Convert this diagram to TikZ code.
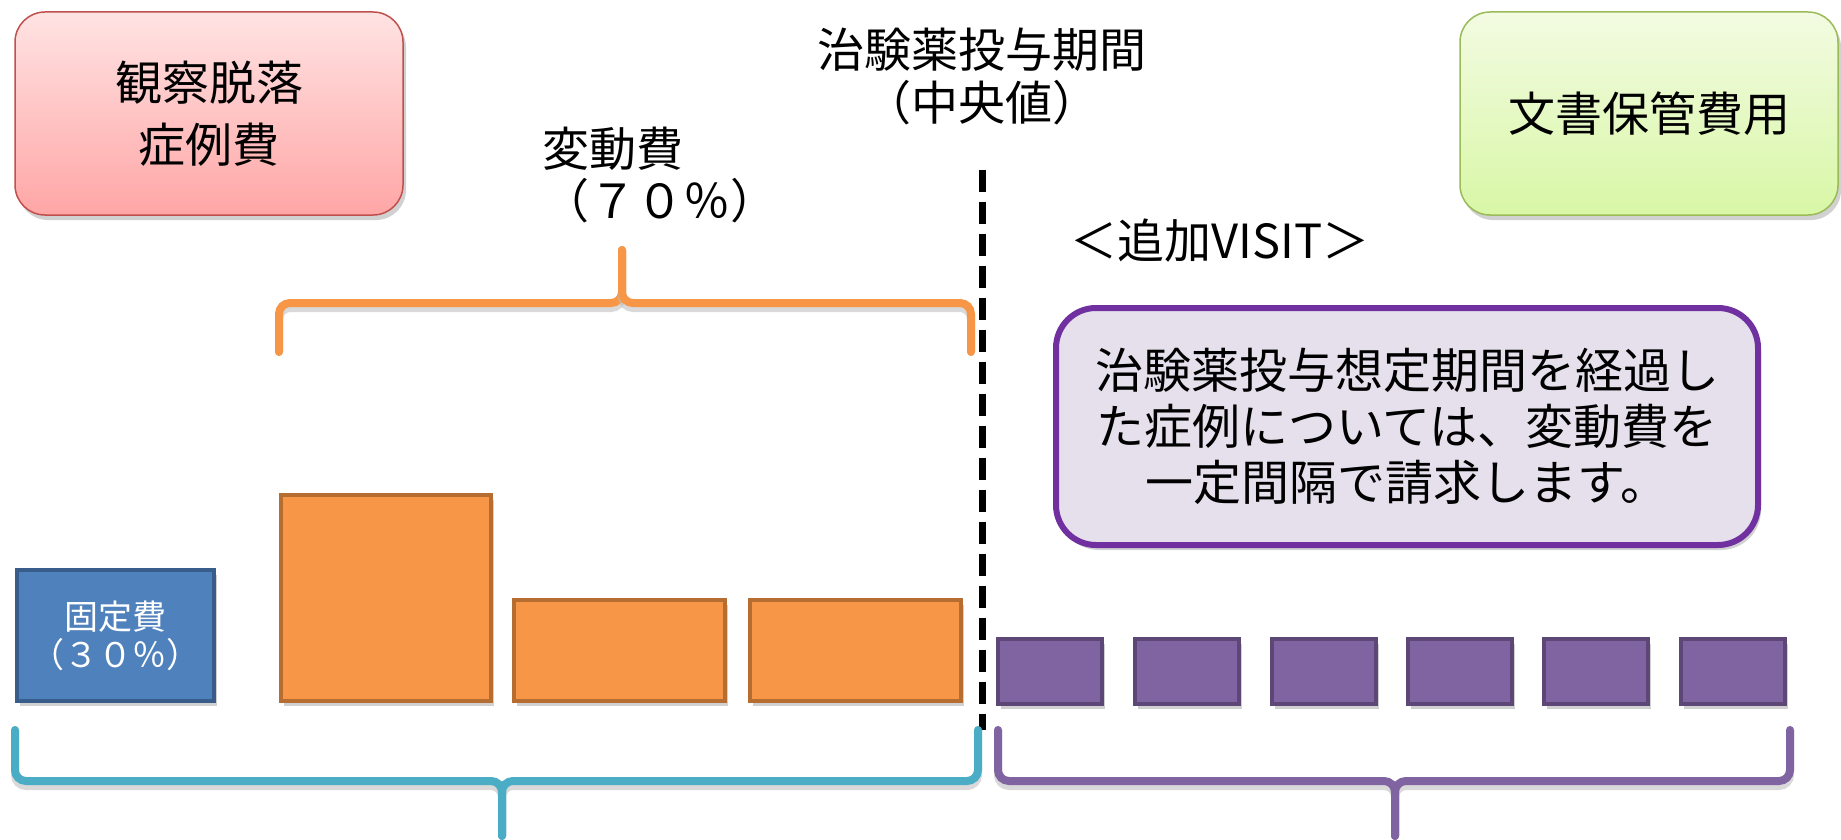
\documentclass[tikz,border=0pt]{standalone}
\usepackage{fontspec}
\setmainfont{Noto Sans CJK JP}
\usetikzlibrary{shadows}
\definecolor{redline}{HTML}{C0504D}
\definecolor{redtop}{HTML}{FFE3E3}
\definecolor{redbot}{HTML}{FFA6A6}
\definecolor{greenline}{HTML}{9BBB59}
\definecolor{greentop}{HTML}{F3FBE2}
\definecolor{greenbot}{HTML}{D8F7A6}
\definecolor{blueline}{HTML}{385D8A}
\definecolor{bluefill}{HTML}{4F81BD}
\definecolor{orline}{HTML}{B66D31}
\definecolor{orfill}{HTML}{F79646}
\definecolor{puline}{HTML}{5C4776}
\definecolor{pufill}{HTML}{8064A2}
\definecolor{callline}{HTML}{7030A0}
\definecolor{callfill}{HTML}{E5E0EC}
\definecolor{cyan}{HTML}{4BACC6}
\tikzset{
  bigtext/.style={font=\fontsize{47}{58}\selectfont, align=center},
  shad/.style={drop shadow={shadow xshift=3pt, shadow yshift=-5pt, opacity=0.3, fill=black!60}},
  topbox/.style={bigtext, rounded corners=30pt, line width=1.5pt, shad},
  bar/.style={line width=4pt, shad},
  bracestyle/.style={line width=8pt, rounded corners=11pt, line cap=round},
}
\begin{document}
\begin{tikzpicture}[x=1pt,y=-1pt]
\useasboundingbox (0,0) rectangle (1841,840);
% top boxes
\node[topbox, draw=redline, top color=redtop, bottom color=redbot, minimum width=388, minimum height=203, font=\fontsize{47}{62}\selectfont] (obs) at (209,113.5) {観察脱落\\症例費};
\node[topbox, draw=greenline, top color=greentop, bottom color=greenbot, minimum width=378, minimum height=203] (doc) at (1649,113.5) {文書保管費用};
% title
\node[bigtext, font=\fontsize{47}{53}\selectfont] (title) at (982,76) {治験薬投与期間\\（中央値）};
% variable cost label
\node[bigtext, align=left, anchor=west, font=\fontsize{47}{52}\selectfont] (var) at (539,175) {変動費\\（７０％）};
% extra visit label
\node[bigtext] (visit) at (1220,241) {＜追加VISIT＞};
% callout
\node[bigtext, draw=callline, fill=callfill, line width=6pt, rounded corners=40pt, minimum width=702, minimum height=237, shad, font=\fontsize{48}{56}\selectfont] (call) at (1407,426.5) {治験薬投与想定期間を経過し\\た症例については、変動費を\\一定間隔で請求します。};
% fixed cost bar
\node[bar, draw=blueline, fill=bluefill, minimum width=197, minimum height=131, text=white, align=center, font=\fontsize{34}{38}\selectfont] (fix) at (115.5,635.5) {固定費\\（３０％）};
% variable bars
\node[bar, draw=orline, fill=orfill, minimum width=210, minimum height=206] (o1) at (386,598) {};
\node[bar, draw=orline, fill=orfill, minimum width=211, minimum height=101] (o2) at (619.5,650.5) {};
\node[bar, draw=orline, fill=orfill, minimum width=211, minimum height=101] (o3) at (855.5,650.5) {};
% extra visit bars
\foreach \i/\x in {1/1050,2/1187,3/1323.5,4/1460,5/1595.5,6/1733}{
  \node[bar, draw=puline, fill=pufill, minimum width=104, minimum height=65] (p\i) at (\x,671.5) {};
}
% dashed divider
\coordinate (dtop) at (982,170);
\coordinate (dbot) at (982,730);
\draw[line width=7pt, dash pattern=on 22pt off 10pt] (dtop) -- (dbot);
% orange brace
\coordinate (ob1) at (279,352); \coordinate (ob2) at (971,352);
\coordinate (obc) at (622,250);
\foreach \s in {ob1,ob2}{
  \draw[bracestyle, black!25, opacity=0.6, xshift=2pt, yshift=-5pt] (\s) -- (\s |- 0,303) -- (obc |- 0,303) -- (obc);
  \draw[bracestyle, orfill] (\s) -- (\s |- 0,303) -- (obc |- 0,303) -- (obc);
}
% cyan brace
\coordinate (cb1) at (15,730); \coordinate (cb2) at (978,730);
\coordinate (cbc) at (502,836);
\foreach \s in {cb1,cb2}{
  \draw[bracestyle, black!25, opacity=0.6, xshift=2pt, yshift=-5pt] (\s) -- (\s |- 0,781) -- (cbc |- 0,781) -- (cbc);
  \draw[bracestyle, cyan] (\s) -- (\s |- 0,781) -- (cbc |- 0,781) -- (cbc);
}
% purple brace
\coordinate (pb1) at (998,730); \coordinate (pb2) at (1790,730);
\coordinate (pbc) at (1395,836);
\foreach \s in {pb1,pb2}{
  \draw[bracestyle, black!25, opacity=0.6, xshift=2pt, yshift=-5pt] (\s) -- (\s |- 0,781) -- (pbc |- 0,781) -- (pbc);
  \draw[bracestyle, pufill] (\s) -- (\s |- 0,781) -- (pbc |- 0,781) -- (pbc);
}
\end{tikzpicture}
\end{document}
